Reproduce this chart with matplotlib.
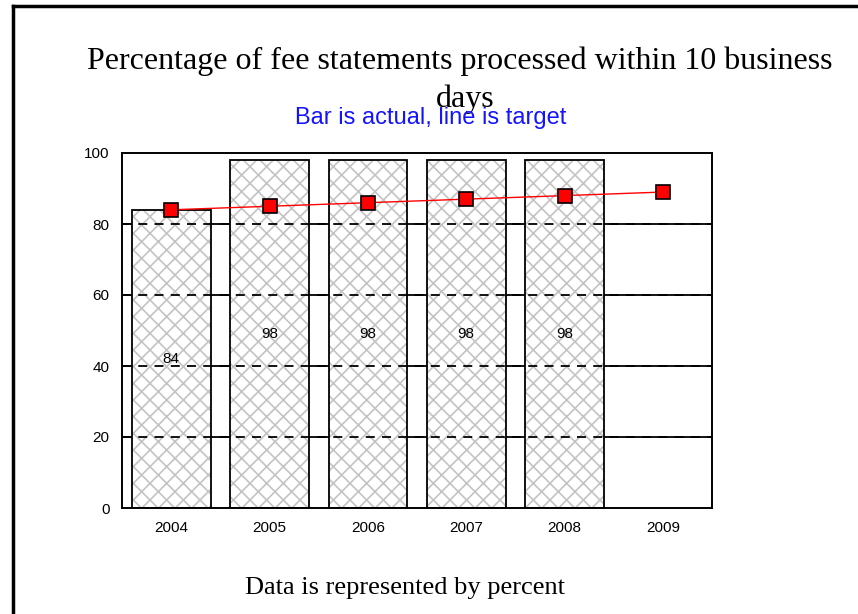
import matplotlib
matplotlib.use("Agg")
import matplotlib.pyplot as plt
from matplotlib.lines import Line2D
import numpy as np

years = ["2004", "2005", "2006", "2007", "2008", "2009"]
actual = [84, 98, 98, 98, 98, None]
target = [84, 85, 86, 87, 88, 89]
yticks = [0, 20, 40, 60, 80, 100]

fig = plt.figure(figsize=(8.58, 6.14), dpi=100)
W, H = 858, 614
ax = fig.add_axes([122 / W, 1 - 508 / H, 590 / W, 355 / H])

x = np.arange(len(years))
ax.set_xlim(-0.5, len(years) - 0.5)
ax.set_ylim(0, 100)

plt.rcParams["hatch.linewidth"] = 1.2

# solid grid lines behind bars
for yv in yticks[1:-1]:
    ax.axhline(yv, color="black", lw=1.3, zorder=0)

bx = [i for i, v in enumerate(actual) if v is not None]
bv = [v for v in actual if v is not None]
ax.bar(bx, bv, width=0.8, color="white", edgecolor="#c4c4c4", hatch="xx", lw=0, zorder=1)
ax.bar(bx, bv, width=0.8, fill=False, edgecolor="black", lw=1.3, zorder=2)

# dashed grid seen through bars
for yv in yticks[1:-1]:
    ax.axhline(yv, color="black", lw=1.3, ls=(0, (5, 4)), zorder=2.5)

for i, v in zip(bx, bv):
    ax.text(i, v / 2, str(v), ha="center", va="center", fontsize=11,
            family="Liberation Sans", zorder=4)

ax.plot(x, target, color="red", lw=1, marker="s", markersize=10,
        markerfacecolor="red", markeredgecolor="black", markeredgewidth=1.2, zorder=5)

ax.set_xticks(x)
ax.set_xticklabels(years, family="Liberation Sans", fontsize=11)
ax.set_yticks(yticks)
ax.set_yticklabels([str(v) for v in yticks], family="Liberation Sans", fontsize=11)
ax.tick_params(length=0, pad=9)
ax.tick_params(axis="x", pad=9)
for s in ax.spines.values():
    s.set_linewidth(1.4)

fig.text(460 / W, 1 - 61 / H, "Percentage of fee statements processed within 10 business",
         ha="center", va="center", family="Liberation Serif", fontsize=23)
fig.text(465 / W, 1 - 99 / H, "days", ha="center", va="center",
         family="Liberation Serif", fontsize=23)
fig.text(431 / W, 1 - 118 / H, "Bar is actual, line is target", ha="center", va="center",
         family="Liberation Sans", fontsize=17, color="#1414ff")
fig.text(405 / W, 1 - 588 / H, "Data is represented by percent", ha="center", va="center",
         family="Liberation Serif", fontsize=19)

# outer frame (left and top)
fig.add_artist(Line2D([13 / W, 13 / W], [0, 1 - 6 / H], color="black", lw=2.5,
                      transform=fig.transFigure))
fig.add_artist(Line2D([13 / W, 1], [1 - 6 / H, 1 - 6 / H], color="black", lw=2.5,
                      transform=fig.transFigure))

fig.savefig("out.png", dpi=100)
